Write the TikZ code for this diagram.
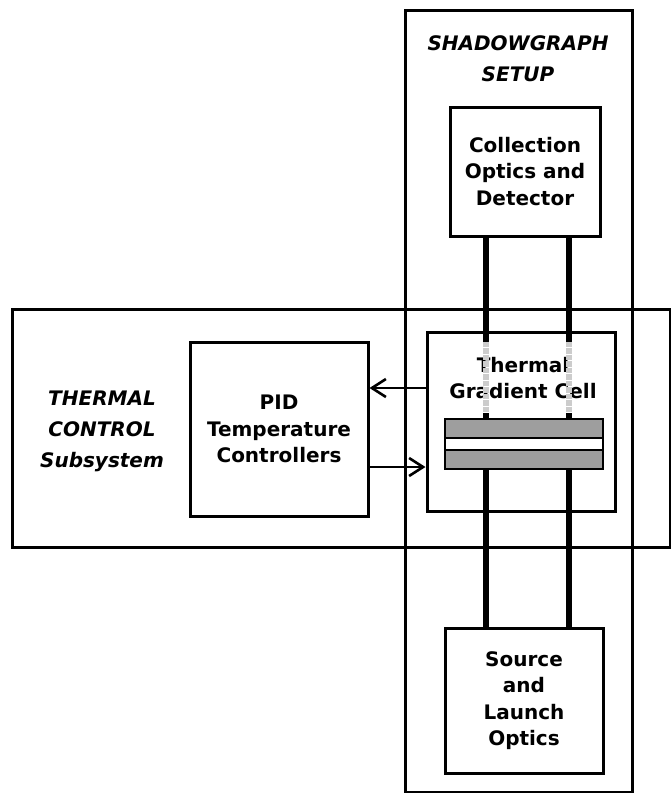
\documentclass[tikz,border=0pt]{standalone}
\usepackage{fontspec}
\setmainfont{DejaVu Sans}
\usetikzlibrary{arrows.meta,calc,positioning}

\begin{document}
\begin{tikzpicture}[x=1pt, y=-1pt,
    unitbox/.style={draw, line width=3pt, fill=white, align=center, inner sep=0pt, font=\fontsize{20}{26.5}\selectfont\bfseries},
    celltext/.style={align=center, inner sep=0pt, font=\fontsize{20}{26.5}\selectfont\bfseries},
    groupframe/.style={draw, line width=3pt, inner sep=0pt},
    grouplabel/.style={align=center, inner sep=0pt, font=\fontsize{20}{31}\selectfont\bfseries\itshape},
    slabbox/.style={draw, line width=1.8pt, fill=black!38, inner sep=0pt, outer sep=0pt},
    beam/.style={line width=5.5pt},
    ctrl/.style={line width=2.4pt, -{Straight Barb[length=14pt, width=18pt, line width=2.6pt]}}]
        \useasboundingbox (0,0) rectangle (670,793);

        % Group frames
        \node[groupframe, minimum width=227pt, minimum height=782pt] (shadow) at (518.5,401) {};
        \node[groupframe, minimum width=658pt, minimum height=238pt] (thermal) at (341,428) {};
        \node[grouplabel] (shadowlbl) at (518,59) {SHADOWGRAPH\\SETUP};
        \node[grouplabel] (thermallbl) at (102,431) {THERMAL\\CONTROL\\Subsystem};

        % Optical train
        \node[unitbox, minimum width=150pt, minimum height=129pt] (detector) at (525,171.5) {Collection\\Optics and\\Detector};
        \node[unitbox, minimum width=188pt, minimum height=179pt] (cell) at (521,421.5) {};
        \node[celltext] (celllbl) at (523,378) {Thermal\\Gradient Cell};
        \node[slabbox, minimum width=158pt, minimum height=50pt] (slab) at (524,444) {};
        \draw[fill=white, line width=1.8pt] ($(slab.north west)+(0,19)$) rectangle ($(slab.north east)+(0,31)$);
        \node[unitbox, minimum width=158pt, minimum height=145pt] (source) at (524,700.5) {Source\\and\\Launch\\Optics};

        % Probe beams
        \coordinate (beamL) at (486,0);
        \coordinate (beamR) at (569,0);
        \foreach \b in {beamL,beamR} {
            \draw[beam] (\b |- detector.south) -- ($(\b |- cell.north)+(0,11)$);
            \draw[beam, gray!40, densely dotted] ($(\b |- cell.north)+(0,11)$) -- ($(\b |- slab.north)+(0,-6)$);
            \draw[beam] ($(\b |- slab.north)+(0,-6)$) -- (\b |- slab.north);
            \draw[beam] (\b |- slab.south) -- (\b |- source.north);
        }

        % Temperature control loop
        \node[unitbox, minimum width=178pt, minimum height=174pt] (pid) at (279,429) {PID\\Temperature\\Controllers};
        \coordinate (fbk) at (0,388);
        \coordinate (drv) at (0,467);
        \draw[ctrl] (cell.west |- fbk) -- (pid.east |- fbk);
        \draw[ctrl] (pid.east |- drv) -- (cell.west |- drv);
\end{tikzpicture}
\end{document}
